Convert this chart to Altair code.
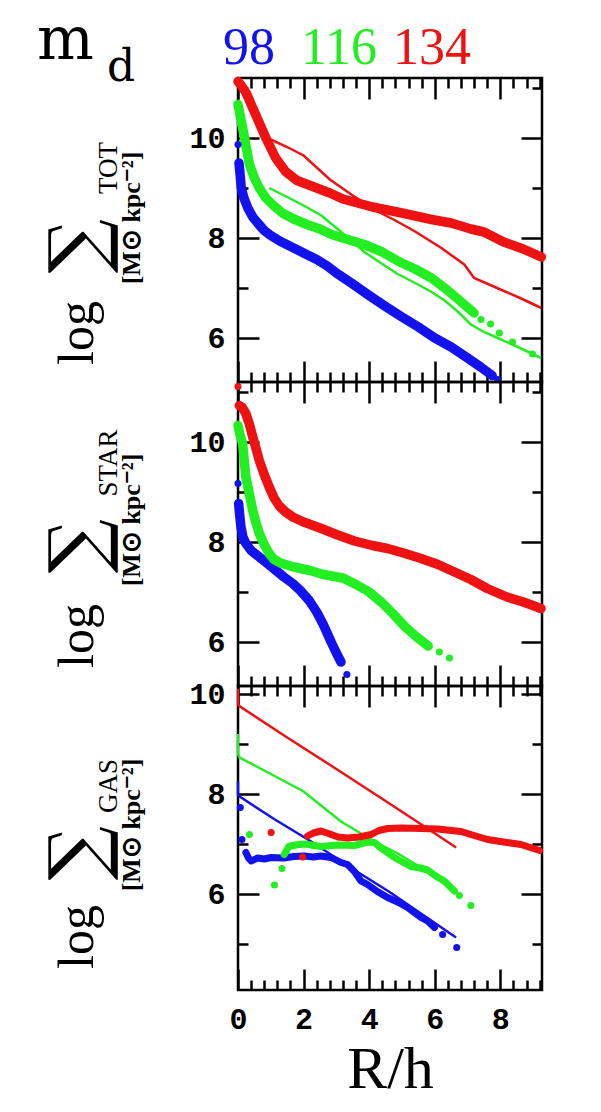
import altair as alt
import pandas as pd

# ---------------- data ----------------
MODELS = ["98", "116", "134"]
COLORS = ["#1212ee", "#22ee22", "#ee1212"]
PANEL_SUBS = ["TOT", "STAR", "GAS"]
UNIT_LABEL = "[M\u2299 kpc\u207b\u00b2]"
X_TITLE = "R/h"

X_MAJOR = [0, 2, 4, 6, 8]
X_MINOR = [0.4, 0.8, 1.2, 1.6, 2.4, 2.8, 3.2, 3.6, 4.4, 4.8, 5.2, 5.6,
           6.4, 6.8, 7.2, 7.6, 8.4, 8.8, 9.2]
Y_MAJOR = [6, 8, 10]
Y_MINOR_UP = [7, 9, 11]
Y_MINOR_LOW = [5, 7, 9]

X_DOMAIN = [0, 9.27]
Y_DOMAINS = [[5.12, 11.2], [5.12, 11.2], [4.08, 10.16]]

# --- TOT: thick (dense points) ---
tot_thick_98_R = [0.03, 0.06, 0.1, 0.18, 0.3, 0.45, 0.6, 0.8, 1.0, 1.3, 1.7, 2.0, 2.4, 2.7,
                  3.0, 3.5, 4.0, 4.5, 5.0, 5.5, 6.0, 6.5, 7.0, 7.4, 7.75]
tot_thick_98_S = [9.5, 9.3, 9.0, 8.8, 8.6, 8.42, 8.3, 8.15, 8.05, 7.93, 7.8, 7.7, 7.57, 7.45,
                  7.3, 7.08, 6.85, 6.63, 6.42, 6.22, 6.0, 5.82, 5.6, 5.42, 5.25]
tot_thick_116_R = [0.0, 0.05, 0.1, 0.2, 0.35, 0.5, 0.65, 0.85, 1.05, 1.35, 1.7, 2.1, 2.5, 2.85,
                   3.2, 3.85, 4.4, 4.9, 5.4, 5.9, 6.4, 6.9, 7.2]
tot_thick_116_S = [10.67, 10.5, 10.33, 10.0, 9.47, 9.2, 9.0, 8.8, 8.67, 8.5, 8.38, 8.27, 8.18, 8.07,
                   8.0, 7.87, 7.72, 7.53, 7.38, 7.2, 6.95, 6.67, 6.5]
tot_thick_134_R = [0.0, 0.1, 0.25, 0.55, 0.85, 1.15, 1.45, 1.8, 2.2, 2.8, 3.2, 4.1, 5.0, 5.9,
                   6.5, 7.1, 7.5, 8.1, 8.7, 9.25]
tot_thick_134_S = [11.13, 11.05, 10.9, 10.45, 10.0, 9.6, 9.33, 9.15, 9.05, 8.9, 8.78, 8.62, 8.5, 8.37,
                   8.3, 8.18, 8.12, 7.92, 7.78, 7.62]
# --- TOT: isolated dots ---
tot_dot_98_R = [0.0, 7.92]
tot_dot_98_S = [9.87, 5.17]
tot_dot_116_R = [7.41, 7.7, 7.97, 8.37, 8.98]
tot_dot_116_S = [6.37, 6.28, 6.1, 5.92, 5.68]
# --- TOT: thin model lines ---
tot_thin_116_R = [0.95, 1.5, 2.0, 2.54, 3.0, 3.55, 3.85, 4.4, 4.87, 5.4, 5.88, 6.3, 6.7, 7.1,
                  7.5, 7.92, 8.6, 9.24]
tot_thin_116_S = [9.0, 8.82, 8.65, 8.45, 8.2, 7.9, 7.72, 7.48, 7.28, 7.1, 6.93, 6.75, 6.53, 6.27,
                  6.12, 6.0, 5.8, 5.6]
tot_thin_134_R = [0.9, 1.5, 2.0, 2.8, 3.5, 4.2, 4.8, 5.4, 6.2, 6.9, 7.2, 7.9, 8.6, 9.25]
tot_thin_134_S = [10.0, 9.82, 9.65, 9.17, 8.85, 8.55, 8.35, 8.13, 7.8, 7.47, 7.2, 7.0, 6.8, 6.6]

# --- STAR: thick ---
star_thick_98_R = [0.02, 0.05, 0.09, 0.15, 0.24, 0.4, 0.65, 0.9, 1.16, 1.4, 1.67, 1.9, 2.17, 2.4,
                   2.6, 2.84, 3.0, 3.14]
star_thick_98_S = [8.77, 8.55, 8.3, 8.1, 7.97, 7.83, 7.7, 7.57, 7.43, 7.3, 7.17, 7.03, 6.83, 6.6,
                   6.35, 6.0, 5.78, 5.6]
star_thick_116_R = [0.0, 0.06, 0.14, 0.24, 0.35, 0.45, 0.55, 0.65, 0.8, 0.95, 1.1, 1.3, 1.7, 2.2,
                    2.6, 3.2, 3.6, 4.0, 4.4, 4.75, 5.1, 5.45, 5.8]
star_thick_116_S = [10.33, 10.15, 9.97, 9.3, 8.95, 8.63, 8.38, 8.17, 7.95, 7.77, 7.65, 7.58, 7.5, 7.43,
                    7.35, 7.28, 7.15, 7.0, 6.78, 6.55, 6.3, 6.1, 5.92]
star_thick_134_R = [0.04, 0.12, 0.24, 0.35, 0.45, 0.55, 0.65, 0.8, 0.95, 1.1, 1.26, 1.45, 1.67, 2.0,
                    2.5, 3.0, 3.55, 4.1, 4.56, 5.1, 5.58, 6.1, 6.6, 7.1, 7.6, 8.2, 8.7, 9.24]
star_thick_134_S = [10.73, 10.7, 10.57, 10.35, 10.1, 9.87, 9.63, 9.35, 9.1, 8.88, 8.72, 8.6, 8.5, 8.4,
                    8.28, 8.15, 8.02, 7.93, 7.87, 7.77, 7.67, 7.55, 7.4, 7.25, 7.07, 6.9, 6.8, 6.67]
star_dot_98_R = [0.0, 3.32]
star_dot_98_S = [9.17, 5.35]
star_dot_116_R = [6.14, 6.45]
star_dot_116_S = [5.8, 5.68]
star_dot_134_R = [0.0]
star_dot_134_S = [11.11]

# --- GAS: thick ---
gas_thick_98_R = [0.24, 0.32, 0.4, 0.6, 0.8, 1.01, 1.4, 1.7, 2.02, 2.3, 2.53, 2.84, 3.14, 3.34,
                  3.55, 3.75, 3.95, 4.25, 4.56, 4.9, 5.17, 5.58, 5.78, 5.99]
gas_thick_98_S = [6.83, 6.72, 6.66, 6.72, 6.7, 6.73, 6.72, 6.75, 6.76, 6.74, 6.76, 6.73, 6.63, 6.59,
                  6.45, 6.26, 6.19, 6.05, 5.93, 5.83, 5.73, 5.53, 5.46, 5.33]
gas_thick_116_R = [1.41, 1.55, 1.75, 2.02, 2.53, 3.04, 3.55, 3.95, 4.16, 4.4, 4.77, 5.27, 5.55,
                   5.78, 6.05, 6.29, 6.6]
gas_thick_116_S = [6.79, 6.95, 6.98, 7.0, 6.95, 6.98, 6.97, 7.04, 7.03, 6.9, 6.73, 6.55, 6.52,
                   6.48, 6.35, 6.26, 6.06]
gas_thick_134_R = [2.12, 2.3, 2.53, 2.8, 3.05, 3.34, 3.7, 4.06, 4.3, 4.56, 5.0, 5.58, 6.1, 6.5,
                   6.8, 7.2, 7.61, 8.1, 8.63, 9.2]
gas_thick_134_S = [7.16, 7.22, 7.26, 7.2, 7.14, 7.12, 7.14, 7.19, 7.27, 7.31, 7.32, 7.31, 7.3, 7.27,
                   7.25, 7.17, 7.09, 7.04, 6.99, 6.87]
gas_dot_98_R = [0.07, 0.12, 6.24, 6.67]
gas_dot_98_S = [7.73, 7.09, 5.19, 4.93]
gas_dot_116_R = [0.35, 1.11, 1.34, 6.75, 7.1]
gas_dot_116_S = [7.19, 6.18, 6.51, 5.97, 5.77]
gas_dot_134_R = [1.01, 1.97]
gas_dot_134_S = [7.23, 6.74]
# --- GAS: thin model lines ---
gas_thin_98_R = [0.0, 0.0, 0.05, 1.1, 2.23, 3.5, 4.6, 5.6, 6.65]
gas_thin_98_S = [8.25, 7.98, 7.95, 7.5, 7.05, 6.5, 6.05, 5.6, 5.13]
gas_thin_116_R = [0.0, 0.0, 0.05, 1.0, 2.0, 3.14, 4.16, 4.9, 5.58, 6.1, 6.7]
gas_thin_116_S = [9.2, 8.8, 8.73, 8.4, 8.05, 7.45, 7.05, 6.8, 6.53, 6.3, 6.0]
gas_thin_134_R = [0.0, 0.0, 0.04, 1.5, 3.0, 4.5, 5.8, 6.65]
gas_thin_134_S = [10.1, 9.8, 9.76, 9.13, 8.5, 7.86, 7.3, 6.93]


def table(pairs):
    rows = []
    for model, xs, ys in pairs:
        for i, (xv, yv) in enumerate(zip(xs, ys)):
            rows.append({"model": model, "R": xv, "S": yv, "i": i})
    return pd.DataFrame(rows, columns=["model", "R", "S", "i"])


panels = [
    dict(
        thick=table([("98", tot_thick_98_R, tot_thick_98_S), ("116", tot_thick_116_R, tot_thick_116_S),
                     ("134", tot_thick_134_R, tot_thick_134_S)]),
        dots=table([("98", tot_dot_98_R, tot_dot_98_S), ("116", tot_dot_116_R, tot_dot_116_S)]),
        thin=table([("116", tot_thin_116_R, tot_thin_116_S), ("134", tot_thin_134_R, tot_thin_134_S)]),
        width=9.5,
    ),
    dict(
        thick=table([("98", star_thick_98_R, star_thick_98_S), ("116", star_thick_116_R, star_thick_116_S),
                     ("134", star_thick_134_R, star_thick_134_S)]),
        dots=table([("98", star_dot_98_R, star_dot_98_S), ("116", star_dot_116_R, star_dot_116_S),
                    ("134", star_dot_134_R, star_dot_134_S)]),
        thin=None,
        width=9.5,
    ),
    dict(
        thick=table([("98", gas_thick_98_R, gas_thick_98_S), ("116", gas_thick_116_R, gas_thick_116_S),
                     ("134", gas_thick_134_R, gas_thick_134_S)]),
        dots=table([("98", gas_dot_98_R, gas_dot_98_S), ("116", gas_dot_116_R, gas_dot_116_S),
                    ("134", gas_dot_134_R, gas_dot_134_S)]),
        thin=table([("98", gas_thin_98_R, gas_thin_98_S), ("116", gas_thin_116_R, gas_thin_116_S),
                    ("134", gas_thin_134_R, gas_thin_134_S)]),
        width=7,
    ),
]

# ---------------- styling ----------------
W, H = 304, 304
SERIF = "Liberation Serif"
TICKFONT = "Liberation Mono"
MAJ, MIN = 21, 10
color = alt.Color("model:N", scale=alt.Scale(domain=MODELS, range=COLORS), legend=None)


def make_axis(orient, values, size, labels=False, title=None):
    kw = dict(orient=orient, values=values, offset=-size, tickSize=size, tickWidth=2.5,
              tickColor="black", domain=False, grid=False, labels=labels, labelFlush=False,
              labelOverlap=False, labelFont=TICKFONT, labelFontSize=30, labelFontWeight="bold",
              labelColor="black", labelPadding=13 if orient == "left" else 14, title=title)
    if title:
        kw.update(titleFont=SERIF, titleFontSize=60, titleFontWeight="normal",
                  titleColor="black", titlePadding=6)
    return alt.Axis(**kw)


def text_mark(s, x, y, size, font=SERIF, fill="black", angle=0, align="center",
              baseline="middle", weight="normal"):
    return alt.Chart(pd.DataFrame({"t": [s]})).mark_text(
        font=font, fontSize=size, color=fill, angle=angle, align=align,
        baseline=baseline, fontWeight=weight
    ).encode(text="t:N", x=alt.value(x), y=alt.value(y))


# rotated title pieces: (dx, dy) centres relative to each panel origin
title_pos = [
    dict(log=(-160, 255), sig=(-158, 168), sub=(-129, 90), unit=(-106, 140)),
    dict(log=(-160, 254), sig=(-158, 164), sub=(-129, 81), unit=(-106, 138)),
    dict(log=(-160, 251), sig=(-158, 167), sub=(-129, 100), unit=(-106, 139)),
]

charts = []
for k, p in enumerate(panels):
    ydom = Y_DOMAINS[k]
    yminor = Y_MINOR_UP if k < 2 else Y_MINOR_LOW
    last = k == 2
    xs = alt.Scale(domain=X_DOMAIN, nice=False, zero=False)
    ys = alt.Scale(domain=ydom, nice=False, zero=False)
    axis_sets = [
        (make_axis("bottom", X_MAJOR, MAJ, labels=last, title=X_TITLE if last else None),
         make_axis("left", Y_MAJOR, MAJ, labels=True)),
        (make_axis("bottom", X_MINOR, MIN), make_axis("left", yminor, MIN)),
        (make_axis("top", X_MAJOR, MAJ), make_axis("right", Y_MAJOR, MAJ)),
        (make_axis("top", X_MINOR, MIN), make_axis("right", yminor, MIN)),
    ]
    layers = []
    for ax_x, ax_y in axis_sets:
        layers.append(
            alt.Chart(p["thick"]).mark_point(opacity=0).encode(
                x=alt.X("R:Q", scale=xs, axis=ax_x),
                y=alt.Y("S:Q", scale=ys, axis=ax_y),
            )
        )
    if p["thin"] is not None:
        layers.append(
            alt.Chart(p["thin"]).mark_line(strokeWidth=2.5).encode(
                x=alt.X("R:Q", scale=xs, axis=None), y=alt.Y("S:Q", scale=ys, axis=None),
                color=color, detail="model:N", order="i:Q")
        )
    layers.append(
        alt.Chart(p["thick"]).mark_line(strokeWidth=p["width"], strokeCap="round",
                                         strokeJoin="round").encode(
            x=alt.X("R:Q", scale=xs, axis=None), y=alt.Y("S:Q", scale=ys, axis=None),
            color=color, detail="model:N", order="i:Q")
    )
    layers.append(
        alt.Chart(p["dots"]).mark_circle(size=50, opacity=1).encode(
            x=alt.X("R:Q", scale=xs, axis=None), y=alt.Y("S:Q", scale=ys, axis=None),
            color=color)
    )
    tp = title_pos[k]
    layers += [
        text_mark("log", tp["log"][0], tp["log"][1], 50, angle=270),
        text_mark("\u2211", tp["sig"][0], tp["sig"][1], 76, font="DejaVu Serif", angle=270),
        text_mark(PANEL_SUBS[k], tp["sub"][0], tp["sub"][1], 27, angle=270),
        text_mark(UNIT_LABEL, tp["unit"][0], tp["unit"][1], 26, angle=270, weight="bold"),
    ]
    if k == 0:
        layers += [
            text_mark("m", -201, -19, 60, font="DejaVu Serif", align="left", baseline="alphabetic"),
            text_mark("d", -131, 3, 44, font="DejaVu Serif", align="left", baseline="alphabetic"),
            text_mark(MODELS[0], 11, -14, 52, fill=COLORS[0], baseline="alphabetic"),
            text_mark(MODELS[1], 101, -14, 52, fill=COLORS[1], baseline="alphabetic"),
            text_mark(MODELS[2], 194, -14, 52, fill=COLORS[2], baseline="alphabetic"),
            # invisible anchor that fixes the top-left corner of the whole figure
            alt.Chart(pd.DataFrame({"a": [0]})).mark_rule(opacity=0, strokeWidth=1).encode(
                x=alt.value(-236.5), x2=alt.value(-236.5), y=alt.value(-89.5), y2=alt.value(-89.5)),
        ]
    charts.append(
        alt.layer(*layers).resolve_axis(x="independent", y="independent").properties(width=W, height=H)
    )

chart = alt.vconcat(*charts, spacing=0, bounds="flush").properties(
    padding={"left": 0, "top": -13, "right": 0, "bottom": 0}
).configure_view(stroke="black", strokeWidth=2.5)

chart.save("out.html", embed_options={"renderer": "svg", "actions": False})
